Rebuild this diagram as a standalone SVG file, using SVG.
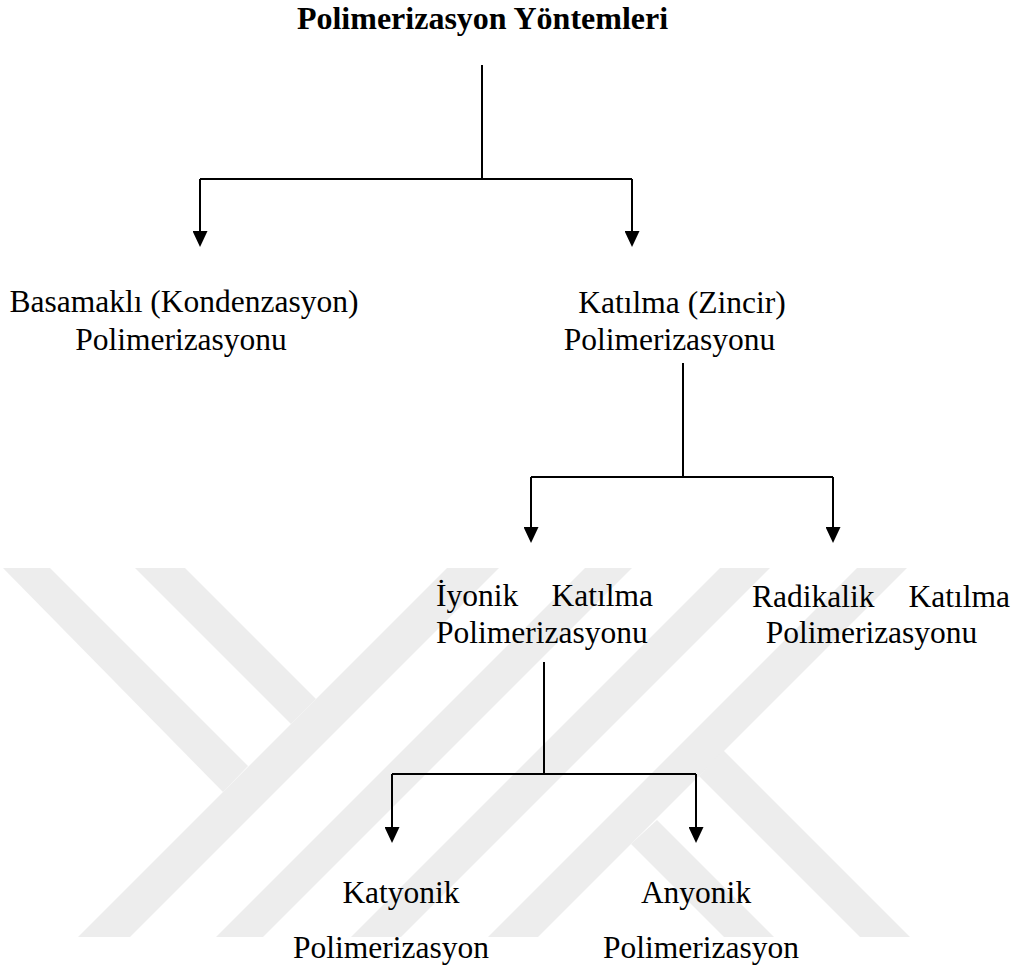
<svg xmlns="http://www.w3.org/2000/svg" width="1017" height="972" viewBox="0 0 1017 972">
<style>
.t{font-family:"Liberation Serif","Times New Roman",serif;font-size:31.5px;fill:#000}
.title{font-family:"Liberation Serif","Times New Roman",serif;font-size:32px;font-weight:bold;fill:#000}
.c{fill:none;stroke:#000;stroke-width:2}
.wm{fill:#ededed}
</style>
<defs>
<marker id="ah" viewBox="0 0 16 15" refX="1" refY="7.5" markerWidth="16" markerHeight="15" markerUnits="userSpaceOnUse" orient="auto">
<path d="M0,0 L16,7.5 L0,15 z" fill="#000"/>
</marker>
</defs>
<rect width="1017" height="972" fill="#fff"/>
<g id="watermark">
<polygon class="wm" points="3,568 50,568 248,766 223,792"/>
<polygon class="wm" points="135,568 185,568 316,699 291,724"/>
<polygon class="wm" points="447,568 499,568 130,937 78,937"/>
<polygon class="wm" points="585,568 632,568 263,937 216,937"/>
<polygon class="wm" points="720,568 770,568 401,937 351,937"/>
<polygon class="wm" points="857,568 907,568 538,937 488,937"/>
<polygon class="wm" points="723,750 910,937 860,937 699,776"/>
<polygon class="wm" points="657,820 774,937 724,937 631,844"/>
</g>
<g id="title">
<text class="title" x="482.5" y="29" text-anchor="middle">Polimerizasyon Yöntemleri</text>
</g>
<g id="connectors">
<path class="c" d="M482,65 V179 M200,179 H632"/>
<path class="c" d="M200,179 V232" marker-end="url(#ah)"/>
<path class="c" d="M632,179 V232" marker-end="url(#ah)"/>
<path class="c" d="M683,363 V477 M531,477 H833"/>
<path class="c" d="M531,477 V528" marker-end="url(#ah)"/>
<path class="c" d="M833,477 V528" marker-end="url(#ah)"/>
<path class="c" d="M544,662 V774 M392,774 H696"/>
<path class="c" d="M392,774 V828" marker-end="url(#ah)"/>
<path class="c" d="M696,774 V828" marker-end="url(#ah)"/>
</g>
<g id="basamakli">
<text class="t" x="184" y="312" text-anchor="middle">Basamaklı (Kondenzasyon)</text>
<text class="t" x="181" y="350" text-anchor="middle">Polimerizasyonu</text>
</g>
<g id="katilma">
<text class="t" x="682" y="313" text-anchor="middle">Katılma (Zincir)</text>
<text class="t" x="669.5" y="350" text-anchor="middle">Polimerizasyonu</text>
</g>
<g id="iyonik">
<text class="t" y="606"><tspan x="436">İyonik</tspan><tspan x="653" text-anchor="end">Katılma</tspan></text>
<text class="t" x="436" y="643">Polimerizasyonu</text>
</g>
<g id="radikalik">
<text class="t" y="607"><tspan x="752">Radikalik</tspan><tspan x="1010" text-anchor="end">Katılma</tspan></text>
<text class="t" x="871.5" y="643" text-anchor="middle">Polimerizasyonu</text>
</g>
<g id="katyonik">
<text class="t" x="401" y="903" text-anchor="middle">Katyonik</text>
<text class="t" x="391" y="958" text-anchor="middle">Polimerizasyon</text>
</g>
<g id="anyonik">
<text class="t" x="696" y="903" text-anchor="middle">Anyonik</text>
<text class="t" x="701" y="958" text-anchor="middle">Polimerizasyon</text>
</g>
</svg>
